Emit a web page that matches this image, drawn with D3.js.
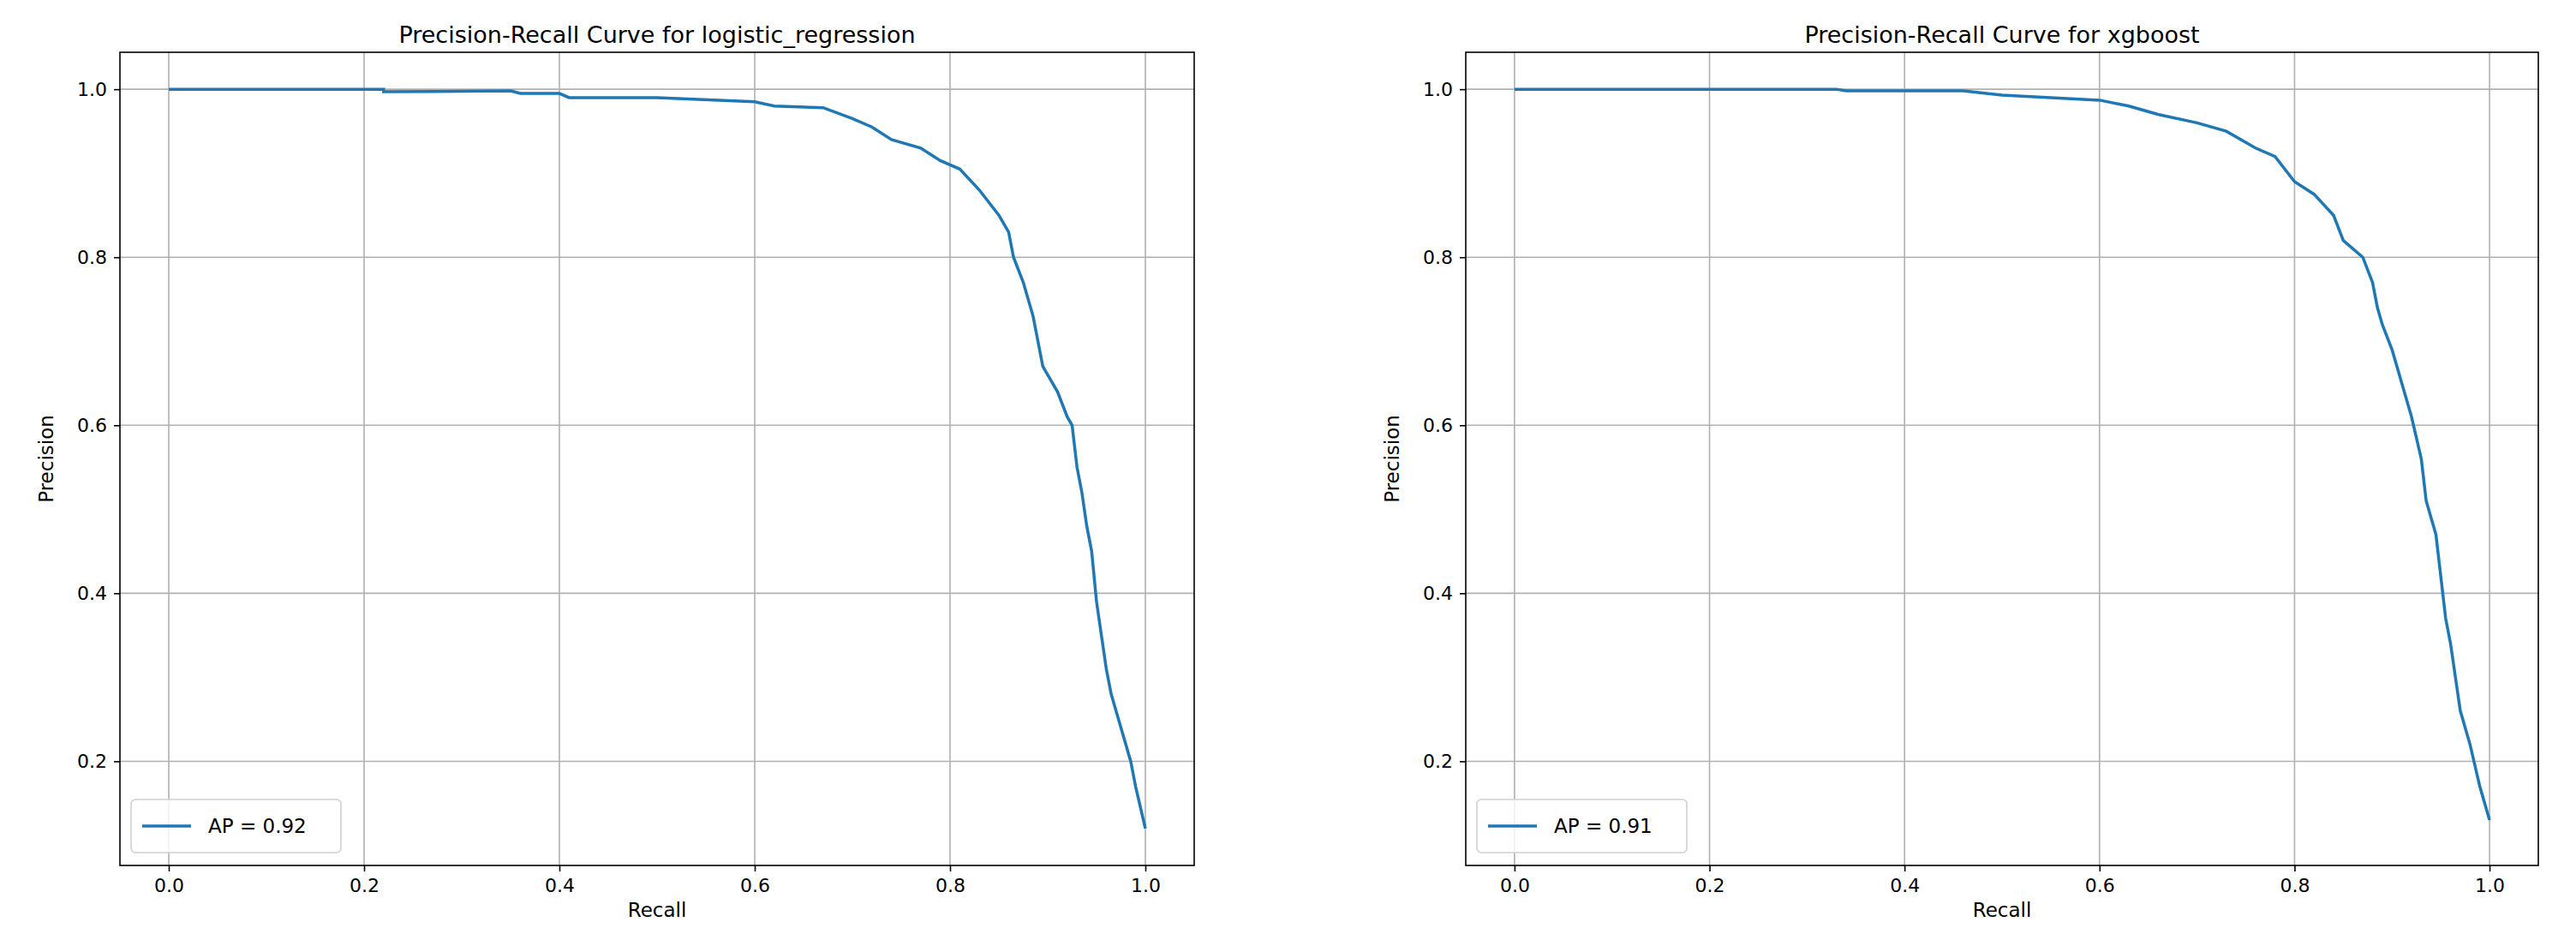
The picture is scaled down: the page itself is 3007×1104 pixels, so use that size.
<!DOCTYPE html>
<html><head><meta charset="utf-8">
<script src="https://cdn.jsdelivr.net/npm/d3@7"></script>
<style>body{margin:0;background:#fff}text{font-family:"DejaVu Sans",sans-serif;fill:#000}</style>
</head><body><div id="chartArea"></div>
<script>
let width = 3007, height = 1104;

const lrRecall = [0,0.22,0.22,0.35,0.36,0.40,0.41,0.5,0.6,0.62,0.67,0.70,0.72,0.74,0.77,0.79,0.81,0.83,0.85,0.86,0.865,0.875,0.885,0.89,0.895,0.91,0.92,0.925,0.93,0.935,0.94,0.945,0.95,0.955,0.96,0.965,0.975,0.985,0.99,1.0];
const lrPrecision = [1.0,1.0,0.997,0.998,0.995,0.995,0.99,0.99,0.985,0.98,0.978,0.965,0.955,0.94,0.93,0.915,0.905,0.88,0.85,0.83,0.80,0.77,0.73,0.70,0.67,0.64,0.61,0.60,0.55,0.52,0.48,0.45,0.39,0.35,0.31,0.28,0.24,0.2,0.17,0.12];
const xgRecall = [0,0.33,0.34,0.46,0.5,0.55,0.6,0.63,0.66,0.7,0.73,0.76,0.78,0.80,0.82,0.84,0.85,0.87,0.88,0.885,0.89,0.9,0.91,0.92,0.93,0.935,0.945,0.95,0.955,0.96,0.965,0.97,0.98,0.99,1.0];
const xgPrecision = [1,1,0.998,0.998,0.993,0.99,0.987,0.98,0.97,0.96,0.95,0.93,0.92,0.89,0.875,0.85,0.82,0.80,0.77,0.74,0.72,0.69,0.65,0.61,0.56,0.51,0.47,0.42,0.37,0.34,0.30,0.26,0.22,0.17,0.13];
const tickValues = [0, 0.2, 0.4, 0.6, 0.8, 1.0];
const yTickValues = [0.2, 0.4, 0.6, 0.8, 1.0];

const panels = [
    {title: 'Precision-Recall Curve for logistic_regression', label: 'AP = 0.92', rec: lrRecall, prec: lrPrecision, left: 140, right: 1394},
    {title: 'Precision-Recall Curve for xgboost', label: 'AP = 0.91', rec: xgRecall, prec: xgPrecision, left: 1711, right: 2963}
];
let plotTop = 61, plotBottom = 1010;

let svg = d3.select('#chartArea').append('svg')
    .attr('width', width).attr('height', height);

panels.forEach(p => {
    let x = d3.scaleLinear().domain([-0.05, 1.05]).range([p.left, p.right]);
    let y = d3.scaleLinear().domain([0.076, 1.044]).range([plotBottom, plotTop]);
    let g = svg.append('g');

    // grid
    tickValues.forEach(t => g.append('line').attr('x1', x(t)).attr('x2', x(t))
        .attr('y1', plotTop).attr('y2', plotBottom).attr('stroke', '#b0b0b0').attr('stroke-width', 1.6));
    yTickValues.forEach(t => g.append('line').attr('y1', y(t)).attr('y2', y(t))
        .attr('x1', p.left).attr('x2', p.right).attr('stroke', '#b0b0b0').attr('stroke-width', 1.6));

    let xa = g.append('g').attr('transform', `translate(0,${plotBottom})`)
        .call(d3.axisBottom(x).tickValues(tickValues).tickFormat(d3.format('.1f')).tickSize(7).tickPadding(8));
    let ya = g.append('g').attr('transform', `translate(${p.left},0)`)
        .call(d3.axisLeft(y).tickValues(yTickValues).tickFormat(d3.format('.1f')).tickSize(7).tickPadding(8));
    [xa, ya].forEach(a => {
        a.select('.domain').remove();
        a.selectAll('text').style('font-size', '22px');
        a.selectAll('line').attr('stroke-width', 1.6);
    });

    let pts = p.rec.map((r, i) => [r, p.prec[i]]);
    g.append('path').datum(pts)
        .attr('d', d3.line().x(d => x(d[0])).y(d => y(d[1])))
        .attr('fill', 'none').attr('stroke', '#1f77b4').attr('stroke-width', 3.5);

    g.append('rect').attr('x', p.left).attr('y', plotTop)
        .attr('width', p.right - p.left).attr('height', plotBottom - plotTop)
        .attr('fill', 'none').attr('stroke', '#000').attr('stroke-width', 1.6);

    g.append('text').attr('x', (p.left + p.right) / 2).attr('y', 50)
        .attr('text-anchor', 'middle').style('font-size', '27px').text(p.title);
    g.append('text').attr('x', (p.left + p.right) / 2).attr('y', 1070)
        .attr('text-anchor', 'middle').style('font-size', '23px').text('Recall');
    g.append('text').attr('transform', `translate(${p.left - 78},${(plotTop + plotBottom) / 2}) rotate(-90)`)
        .attr('text-anchor', 'middle').style('font-size', '23px').text('Precision');

    // legend
    let lx = p.left + 13, ly = plotBottom - 77;
    g.append('rect').attr('x', lx).attr('y', ly).attr('width', 245).attr('height', 62)
        .attr('rx', 5).attr('fill', '#fff').attr('fill-opacity', 0.8).attr('stroke', '#d0d0d0').attr('stroke-width', 1.6);
    g.append('line').attr('x1', lx + 13).attr('x2', lx + 70).attr('y1', ly + 31).attr('y2', ly + 31)
        .attr('stroke', '#1f77b4').attr('stroke-width', 3.5);
    g.append('text').attr('x', lx + 90).attr('y', ly + 39).style('font-size', '23px').text(p.label);
});
</script></body></html>
